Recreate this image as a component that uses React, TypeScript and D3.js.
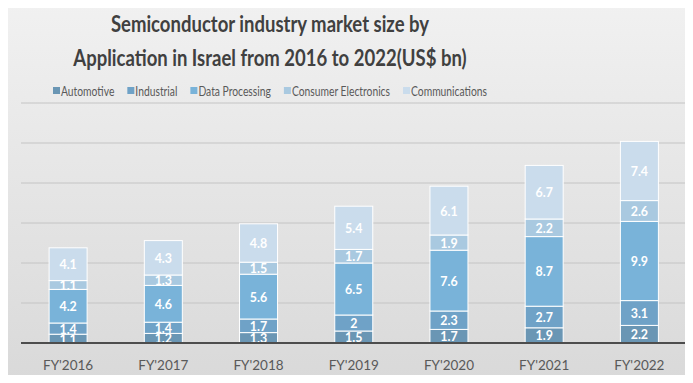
import React, { useEffect, useRef } from "react";
import * as d3 from "d3";

const categories = ["FY'2016", "FY'2017", "FY'2018", "FY'2019", "FY'2020", "FY'2021", "FY'2022"];
const seriesNames = ["Automotive", "Industrial", "Data Processing", "Consumer Electronics", "Communications"];
const automotive = [1.1, 1.2, 1.3, 1.5, 1.7, 1.9, 2.2];
const industrial = [1.4, 1.4, 1.7, 2, 2.3, 2.7, 3.1];
const dataProcessing = [4.2, 4.6, 5.6, 6.5, 7.6, 8.7, 9.9];
const consumerElectronics = [1.1, 1.3, 1.5, 1.7, 1.9, 2.2, 2.6];
const communications = [4.1, 4.3, 4.8, 5.4, 6.1, 6.7, 7.4];
const gridTicks = [5, 10, 15, 20, 25, 30];
const colors = ["#6a96b4", "#6fa2c7", "#79b3d9", "#a9c9e0", "#cadcec"];
const titleLines = ["Semiconductor industry market size by", "Application in Israel from 2016 to 2022(US$ bn)"];

export default function App() {
  const ref = useRef<SVGSVGElement>(null);
  useEffect(() => {
    const W = 693, H = 383;
    const svg = d3.select(ref.current);
    svg.selectAll("*").remove();
    const defs = svg.append("defs");
    const g = defs.append("linearGradient").attr("id", "bg").attr("x1", 0).attr("y1", 0).attr("x2", 0).attr("y2", 1);
    g.append("stop").attr("offset", "0%").attr("stop-color", "#f1f1f1");
    g.append("stop").attr("offset", "100%").attr("stop-color", "#d9d9d9");
    svg.append("rect").attr("x", 0.5).attr("y", 0.5).attr("width", W - 1).attr("height", H - 1)
      .attr("fill", "url(#bg)").attr("stroke", "#d0d0d0");

    const font = "Lato, 'Open Sans', sans-serif";
    const squeeze = (sel: any, ratio: number) => {
      sel.each(function (this: SVGTextElement) {
        const w = this.getComputedTextLength();
        d3.select(this).attr("textLength", w * ratio).attr("lengthAdjust", "spacingAndGlyphs");
      });
    };
    // title
    const titles = svg.append("g").selectAll("text").data(titleLines).join("text")
      .attr("x", 270).attr("y", (_, i) => 32 + i * 34)
      .attr("text-anchor", "middle").attr("font-family", font).attr("font-weight", 700)
      .attr("font-size", 23).attr("fill", "#404040").text((d) => d);
    squeeze(titles, 0.805);

    const x = d3.scaleBand().domain(categories).range([20.5, 687]).paddingInner(0.6).paddingOuter(0.3);
    const y = d3.scaleLinear().domain([0, 30]).range([343, 103]);

    // gridlines
    svg.append("g").selectAll("line").data(gridTicks).join("line")
      .attr("x1", 21).attr("x2", 687).attr("y1", (d) => y(d)).attr("y2", (d) => y(d))
      .attr("stroke", "#c4c4c4").attr("stroke-width", 1);

    const table = categories.map((c, i) => ({
      cat: c,
      "Automotive": automotive[i],
      "Industrial": industrial[i],
      "Data Processing": dataProcessing[i],
      "Consumer Electronics": consumerElectronics[i],
      "Communications": communications[i],
    }));
    const stack = d3.stack<any>().keys(seriesNames)(table);
    const bw = 38;
    const layers = svg.append("g").selectAll("g").data(stack).join("g").attr("fill", (_, i) => colors[i]);
    layers.selectAll("rect").data((d) => d.map((p) => ({ p, key: (d as any).key }))).join("rect")
      .attr("x", (d: any) => x(d.p.data.cat)! + x.bandwidth() / 2 - bw / 2)
      .attr("width", bw)
      .attr("y", (d: any) => y(d.p[1]))
      .attr("height", (d: any) => y(d.p[0]) - y(d.p[1]))
      .attr("stroke", "#ffffff").attr("stroke-width", 1);
    const labels = layers.selectAll("text").data((d) => d.map((p) => ({ p, key: (d as any).key }))).join("text")
      .attr("x", (d: any) => x(d.p.data.cat)! + x.bandwidth() / 2)
      .attr("y", (d: any) => (y(d.p[0]) + y(d.p[1])) / 2 + 5)
      .attr("text-anchor", "middle").attr("font-family", font).attr("font-weight", 700)
      .attr("font-size", 13.5).attr("fill", "#ffffff")
      .text((d: any) => String(+(d.p.data[d.key])));
    squeeze(labels, 0.92);

    // axis
    svg.append("line").attr("x1", 21).attr("x2", 687).attr("y1", 343).attr("y2", 343)
      .attr("stroke", "#4d4d4d").attr("stroke-width", 2);
    svg.append("g").selectAll("text").data(categories).join("text")
      .attr("x", (d) => x(d)! + x.bandwidth() / 2).attr("y", 370)
      .attr("text-anchor", "middle").attr("font-family", font).attr("font-size", 13.5)
      .attr("fill", "#595959").text((d) => d);

    // legend: fit between x=53 and x=487
    const lg = svg.append("g");
    const texts = seriesNames.map((n) =>
      lg.append("text").attr("y", 95.5).attr("font-family", font)
        .attr("font-size", 13).attr("fill", "#595959").text(n));
    const natural = texts.map((t) => (t.node() as SVGTextElement).getComputedTextLength());
    const sq = 8, gap = 13, left = 53, right = 487;
    const avail = right - left - seriesNames.length * sq - (seriesNames.length - 1) * gap;
    const ratio = avail / d3.sum(natural);
    let lx = left;
    seriesNames.forEach((n, i) => {
      lg.append("rect").attr("x", lx).attr("y", 87).attr("width", 7).attr("height", 7).attr("fill", colors[i]);
      const w = natural[i] * ratio;
      texts[i].attr("x", lx + sq).attr("textLength", w).attr("lengthAdjust", "spacingAndGlyphs");
      lx += sq + w + gap;
    });
  }, []);
  return <svg ref={ref} width={693} height={383} style={{ display: "block", margin: "-8px" }} />;
}
